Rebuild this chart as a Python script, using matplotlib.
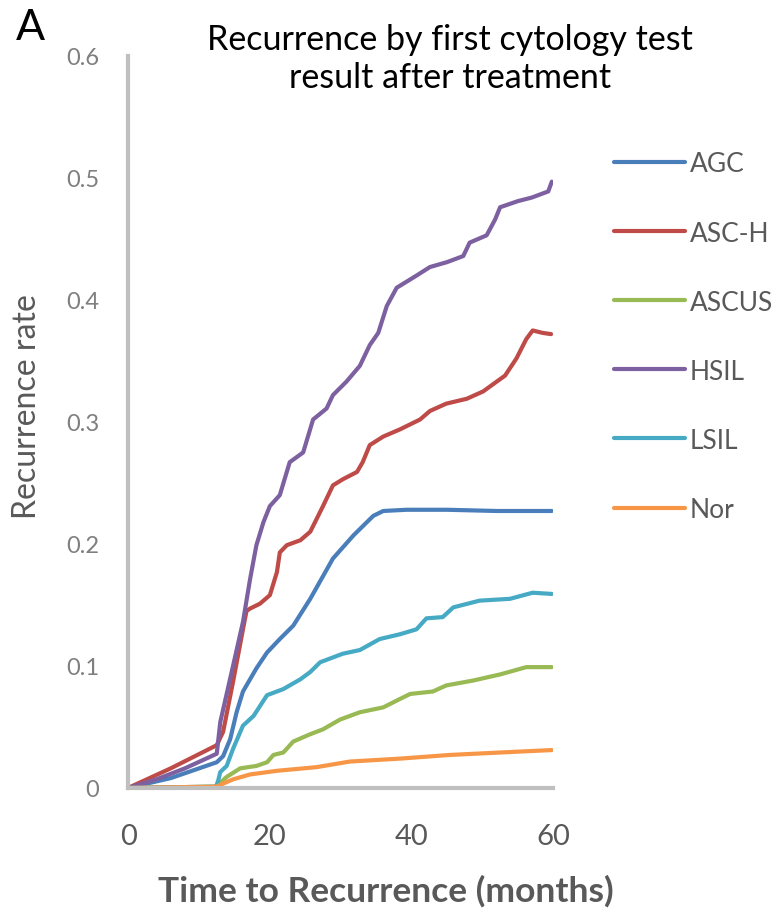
import numpy as np
import matplotlib.pyplot as plt

# values (months, recurrence rate)
agc_x = [0, 6, 12.5, 13.4, 14.4, 15.3, 16.2, 18.1, 19.6, 21.4, 23.3, 25.7, 28.9, 31.8, 34.6, 36.0, 39.3, 45, 52, 59.8]
agc_y = [0, 0.008, 0.021, 0.026, 0.04, 0.062, 0.079, 0.098, 0.111, 0.122, 0.133, 0.155, 0.188, 0.207, 0.223, 0.227, 0.228, 0.228, 0.227, 0.227]

asch_x = [0, 6, 12.5, 13.4, 14.8, 16.2, 16.7, 17.2, 18.6, 20.0, 21.0, 21.4, 22.4, 24.3, 25.7, 27.5, 28.9, 30.3, 32.3, 33.1,
          34.1, 36.0, 38.4, 41.2, 42.6, 44.9, 47.8, 50.1, 53.2, 54.8, 56.2, 57.1, 58.5, 59.7]
asch_y = [0, 0.016, 0.035, 0.046, 0.087, 0.13, 0.145, 0.147, 0.151, 0.158, 0.177, 0.193, 0.199, 0.203, 0.21, 0.231, 0.248, 0.253, 0.259, 0.267,
          0.281, 0.288, 0.294, 0.302, 0.309, 0.315, 0.319, 0.325, 0.338, 0.352, 0.368, 0.375, 0.373, 0.372]

ascus_x = [0, 12.4, 13.9, 15.8, 18.1, 19.6, 20.5, 21.9, 23.3, 25.7, 27.5, 29.9, 32.7, 36.0, 38.4, 39.8, 43.0, 44.9, 48.7, 52.5, 56.2, 59.8]
ascus_y = [0, 0.001, 0.009, 0.016, 0.018, 0.021, 0.027, 0.029, 0.038, 0.044, 0.048, 0.056, 0.062, 0.066, 0.073, 0.077, 0.079, 0.084, 0.088, 0.093, 0.099, 0.099]

hsil_x = [0, 4, 8, 12.5, 13.0, 14.8, 16.2, 17.2, 18.1, 19.1, 20.0, 21.4, 22.8, 24.7, 26.1, 28.0, 28.9, 30.8, 32.7, 34.1,
          35.3, 36.5, 37.9, 40.7, 42.6, 45, 47.3, 48.2, 50.6, 51.8, 52.5, 55, 57, 59.3, 59.8]
hsil_y = [0, 0.007, 0.016, 0.028, 0.054, 0.10, 0.136, 0.171, 0.199, 0.218, 0.231, 0.24, 0.267, 0.275, 0.302, 0.311, 0.322, 0.333, 0.346, 0.363,
          0.373, 0.395, 0.41, 0.42, 0.427, 0.431, 0.436, 0.447, 0.453, 0.466, 0.476, 0.481, 0.484, 0.489, 0.497]

lsil_x = [0, 12.4, 12.7, 13.0, 13.9, 14.8, 16.2, 17.7, 19.6, 21.9, 24.3, 25.7, 27.1, 30.3, 32.7, 35.5, 38.4, 40.7, 42.1, 44.4,
          45.9, 49.6, 53.9, 57.1, 59.8]
lsil_y = [0, 0.001, 0.006, 0.013, 0.018, 0.032, 0.051, 0.059, 0.076, 0.081, 0.089, 0.095, 0.103, 0.11, 0.113, 0.122, 0.126, 0.13, 0.139, 0.14,
          0.148, 0.1535, 0.155, 0.16, 0.159]

nor_x = [0, 12.4, 14.8, 17.2, 21.0, 26.6, 31.3, 38.4, 45.4, 52.5, 59.8]
nor_y = [0, 0.001, 0.007, 0.011, 0.014, 0.017, 0.0216, 0.024, 0.027, 0.029, 0.031]

labels = ['AGC', 'ASC-H', 'ASCUS', 'HSIL', 'LSIL', 'Nor']
colors = ['#4A7EBB', '#BE4B48', '#98B954', '#7D60A0', '#46AAC5', '#F79646']
series = [(agc_x, agc_y), (asch_x, asch_y), (ascus_x, ascus_y),
          (hsil_x, hsil_y), (lsil_x, lsil_y), (nor_x, nor_y)]

plt.rcParams['font.family'] = ['Lato', 'DejaVu Sans']

fig = plt.figure(figsize=(7.77, 9.12), dpi=100)
ax = fig.add_axes([0.165, 0.135, 0.547, 0.8025])

for (x, y), lab, c in zip(series, labels, colors):
    ax.plot(x, y, color=c, lw=3, label=lab, solid_joinstyle='round', solid_capstyle='round')

ax.set_xlim(0, 60)
ax.set_ylim(0, 0.6)
ax.set_xticks([0, 20, 40, 60])
ax.set_yticks([0, 0.1, 0.2, 0.3, 0.4, 0.5, 0.6])
ax.set_yticklabels(['0', '0.1', '0.2', '0.3', '0.4', '0.5', '0.6'])

for s in ['top', 'right']:
    ax.spines[s].set_visible(False)
for s in ['left', 'bottom']:
    ax.spines[s].set_color('#BFBFBF')
    ax.spines[s].set_linewidth(3)

ax.tick_params(axis='x', length=0, pad=25, labelsize=21, labelcolor='#595959')
ax.tick_params(axis='y', length=0, pad=21, labelsize=17, labelcolor='#7F7F7F')

ax.set_ylabel('Recurrence rate', fontsize=23, color='#595959')
ax.yaxis.set_label_coords(-0.202, 0.522)
ax.set_xlabel('Time to Recurrence (months)', fontsize=25.5, fontweight='bold', color='#595959')
ax.xaxis.set_label_coords(0.605, -0.118)

fig.text(0.579, 0.935, 'Recurrence by first cytology test\nresult after treatment',
         ha='center', va='center', fontsize=24.5, color='black', linespacing=1.24)
fig.text(0.039, 0.969, 'A', ha='center', va='center', fontsize=31, color='black')

ax.legend(loc='upper left', bbox_to_anchor=(1.117, 0.884), frameon=False,
          fontsize=19, labelcolor='#595959', handlelength=2.7, handletextpad=0.2,
          labelspacing=1.67, borderaxespad=0)

fig.savefig('out.png', dpi=100)
